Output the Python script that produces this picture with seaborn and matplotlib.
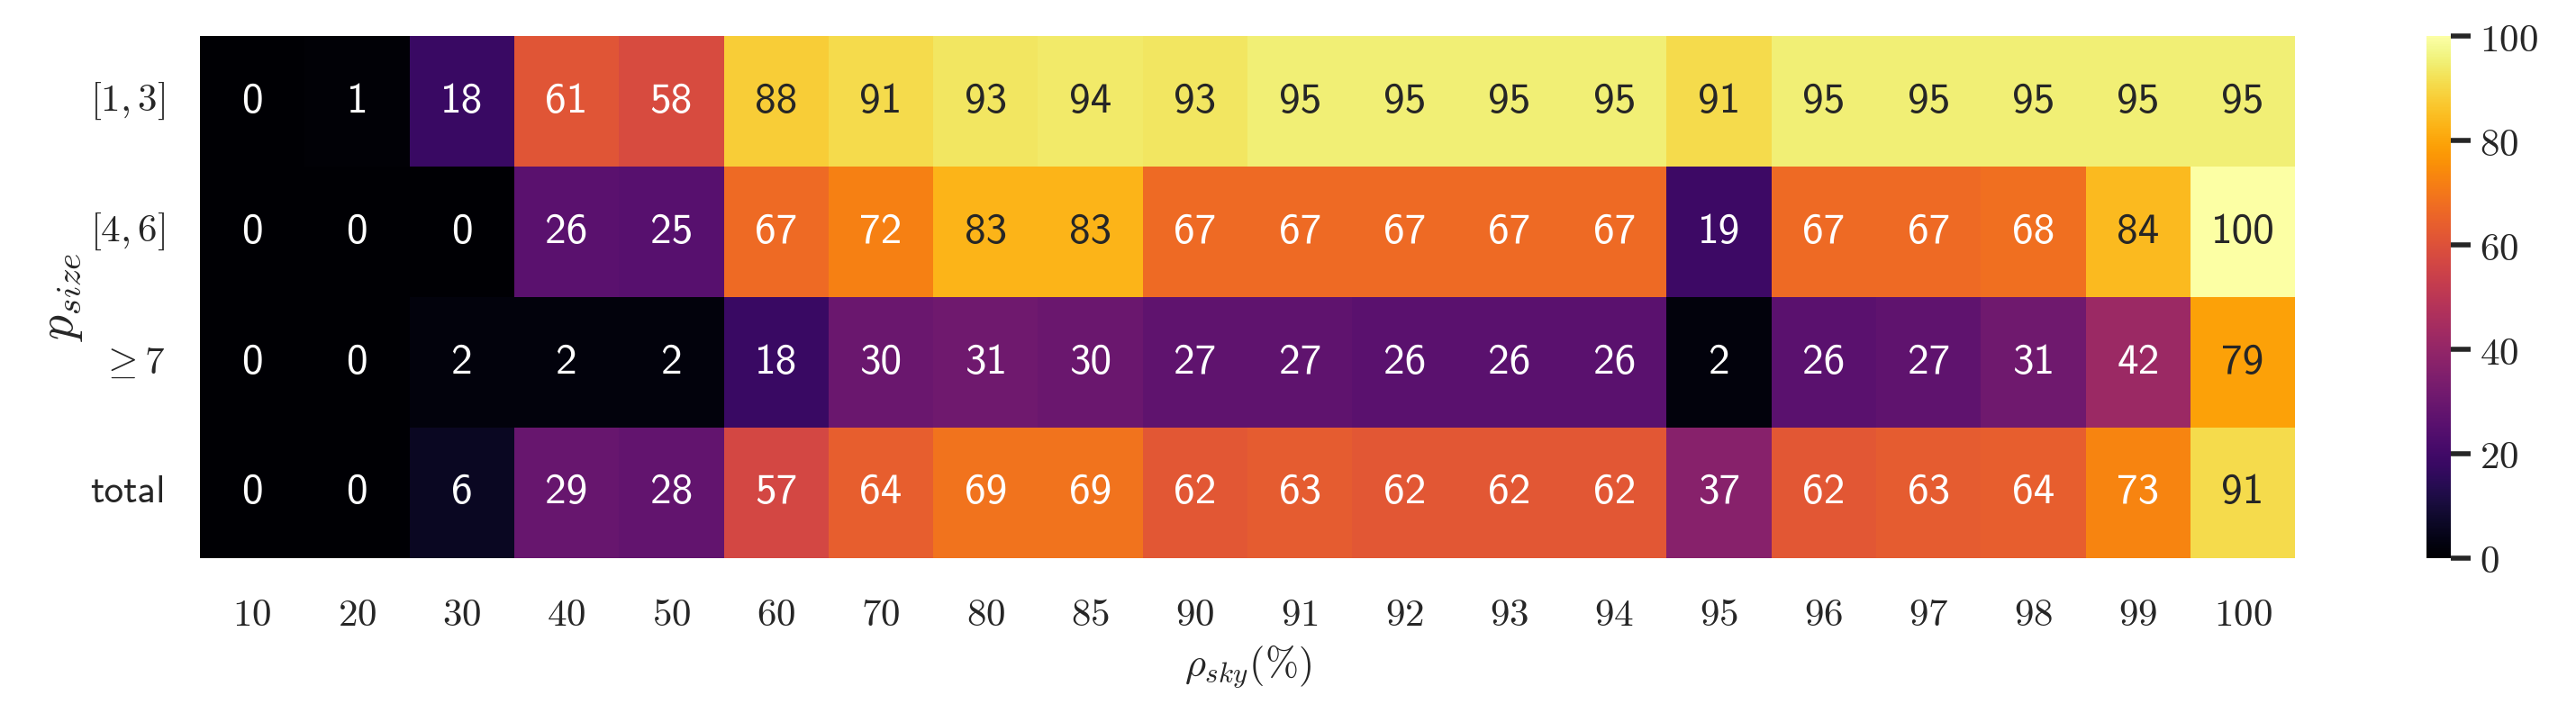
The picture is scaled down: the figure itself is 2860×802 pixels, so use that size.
import numpy as np
import pandas as pd
import matplotlib
matplotlib.use("Agg")
import matplotlib.pyplot as plt
import seaborn as sns

# values
sky = [10, 20, 30, 40, 50, 60, 70, 80, 85, 90, 91, 92, 93, 94, 95, 96, 97, 98, 99, 100]
size_labels = [r"$[1,3]$", r"$[4,6]$", r"$\geq 7$", "total"]
row_1_3 = [0, 1, 18, 61, 58, 88, 91, 93, 94, 93, 95, 95, 95, 95, 91, 95, 95, 95, 95, 95]
row_4_6 = [0, 0, 0, 26, 25, 67, 72, 83, 83, 67, 67, 67, 67, 67, 19, 67, 67, 68, 84, 100]
row_ge7 = [0, 0, 2, 2, 2, 18, 30, 31, 30, 27, 27, 26, 26, 26, 2, 26, 27, 31, 42, 79]
row_total = [0, 0, 6, 29, 28, 57, 64, 69, 69, 62, 63, 62, 62, 62, 37, 62, 63, 64, 73, 91]

sns.set_theme(style="white")
plt.rcParams["mathtext.fontset"] = "cm"
plt.rcParams["axes.unicode_minus"] = False

df = pd.DataFrame([row_1_3, row_4_6, row_ge7, row_total], index=size_labels, columns=sky)

fig = plt.figure(figsize=(14.3, 4.01), dpi=200)
ax = fig.add_axes([0.0776, 0.227, 0.8134, 0.723])
cax = fig.add_axes([0.942, 0.227, 0.0094, 0.723])

sns.heatmap(df, ax=ax, cbar_ax=cax, cmap="inferno", vmin=0, vmax=100,
            annot=True, fmt="d", annot_kws={"fontsize": 17, "fontfamily": "cmss10"})

ax.set_xticklabels([r"$%d$" % s for s in sky], fontsize=15.5, rotation=0)
ax.set_yticklabels(size_labels, fontsize=15.5, rotation=0)
for lbl in ax.get_yticklabels():
    if lbl.get_text() == "total":
        lbl.set_fontfamily("cmss10")
ax.tick_params(axis="x", length=0, pad=15)
ax.tick_params(axis="y", length=0, pad=14)
ax.set_xlabel(r"$\rho_{sky}(\%)$", fontsize=16, labelpad=4)
ax.set_ylabel(r"$p_{size}$", fontsize=20, labelpad=2)

cbar = ax.collections[0].colorbar
cbar.set_ticks([0, 20, 40, 60, 80, 100])
cbar.set_ticklabels([r"$%d$" % t for t in [0, 20, 40, 60, 80, 100]])
cbar.ax.tick_params(labelsize=15.5, length=8, width=2, color="#262626")
cbar.outline.set_visible(False)

plt.savefig("out.png", dpi=200)
